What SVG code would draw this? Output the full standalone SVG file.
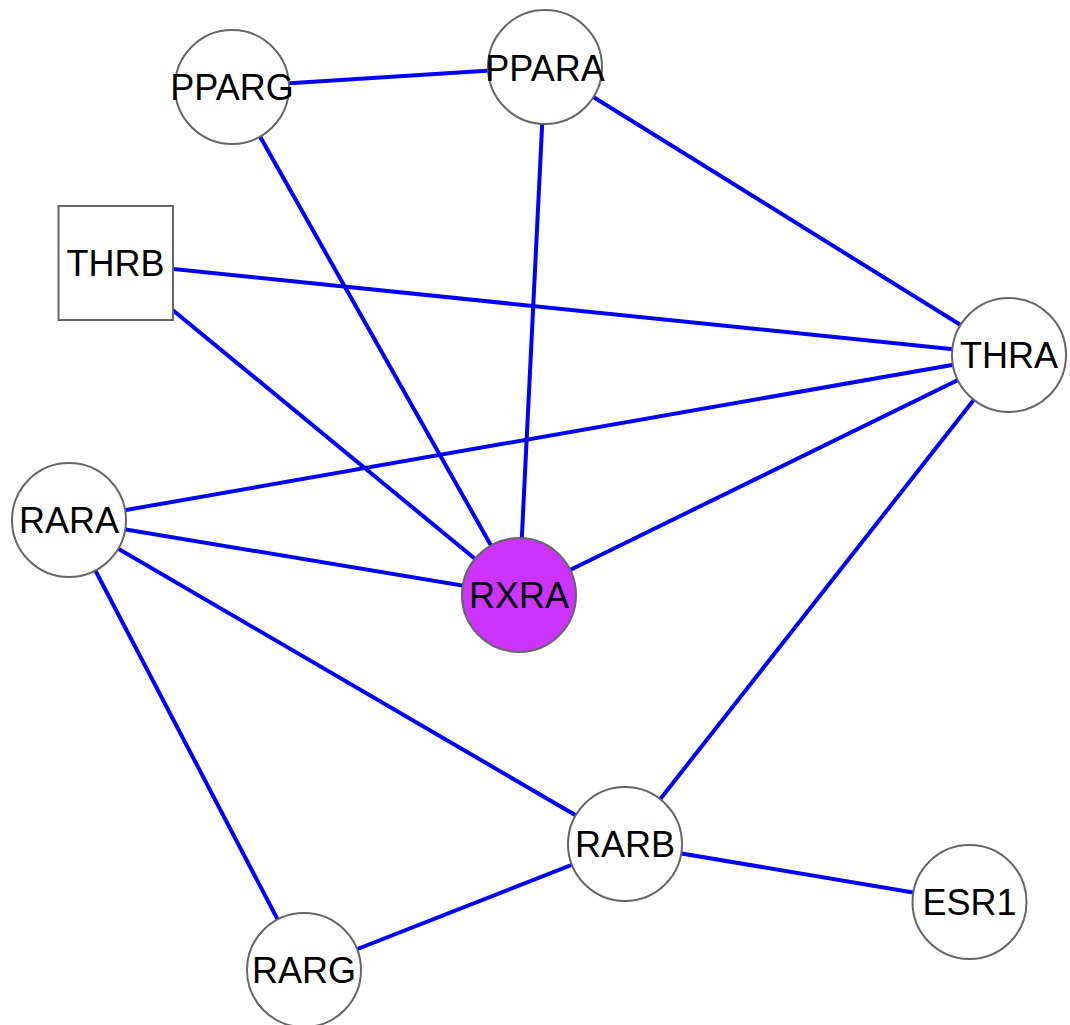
<svg xmlns="http://www.w3.org/2000/svg" width="1070" height="1025" viewBox="0 0 1070 1025">
<style>
.edge{stroke:#0000ff;stroke-width:4;fill:none}
.node{fill:#ffffff;stroke:#666666;stroke-width:2}
.lbl{font-family:"Liberation Sans",Arial,sans-serif;font-size:36px;fill:#000;text-anchor:middle}
</style>
<rect width="1070" height="1025" fill="#ffffff"/>
<g id="edges">
<line class="edge" x1="232" y1="87" x2="545" y2="67"/>
<line class="edge" x1="232" y1="87" x2="519" y2="595"/>
<line class="edge" x1="545" y1="67" x2="519" y2="595"/>
<line class="edge" x1="545" y1="67" x2="1009" y2="355"/>
<line class="edge" x1="115.5" y1="263" x2="1009" y2="355"/>
<line class="edge" x1="115.5" y1="263" x2="519" y2="595"/>
<line class="edge" x1="1009" y1="355" x2="69" y2="520"/>
<line class="edge" x1="1009" y1="355" x2="519" y2="595"/>
<line class="edge" x1="1009" y1="355" x2="625" y2="844"/>
<line class="edge" x1="69" y1="520" x2="519" y2="595"/>
<line class="edge" x1="69" y1="520" x2="625" y2="844"/>
<line class="edge" x1="69" y1="520" x2="304" y2="970"/>
<line class="edge" x1="625" y1="844" x2="304" y2="970"/>
<line class="edge" x1="625" y1="844" x2="969.5" y2="902"/>
</g>
<g id="PPARG"><circle class="node" cx="232" cy="87" r="57"/><text class="lbl" x="232" y="100">PPARG</text></g>
<g id="PPARA"><circle class="node" cx="545" cy="67" r="57"/><text class="lbl" x="545" y="81">PPARA</text></g>
<g id="THRB"><rect class="node" x="58.5" y="206" width="114.5" height="114"/><text class="lbl" x="115.5" y="276">THRB</text></g>
<g id="THRA"><circle class="node" cx="1009" cy="355" r="57"/><text class="lbl" x="1009" y="368">THRA</text></g>
<g id="RARA"><circle class="node" cx="69" cy="520" r="57"/><text class="lbl" x="69" y="533">RARA</text></g>
<g id="RXRA"><circle class="node" cx="519" cy="595" r="57" style="fill:#cc33ff"/><text class="lbl" x="519" y="608">RXRA</text></g>
<g id="RARB"><circle class="node" cx="625" cy="844" r="57"/><text class="lbl" x="625" y="857">RARB</text></g>
<g id="ESR1"><circle class="node" cx="969.5" cy="902" r="57"/><text class="lbl" x="969.5" y="915">ESR1</text></g>
<g id="RARG"><circle class="node" cx="304" cy="970" r="57"/><text class="lbl" x="304" y="983">RARG</text></g>
</svg>
